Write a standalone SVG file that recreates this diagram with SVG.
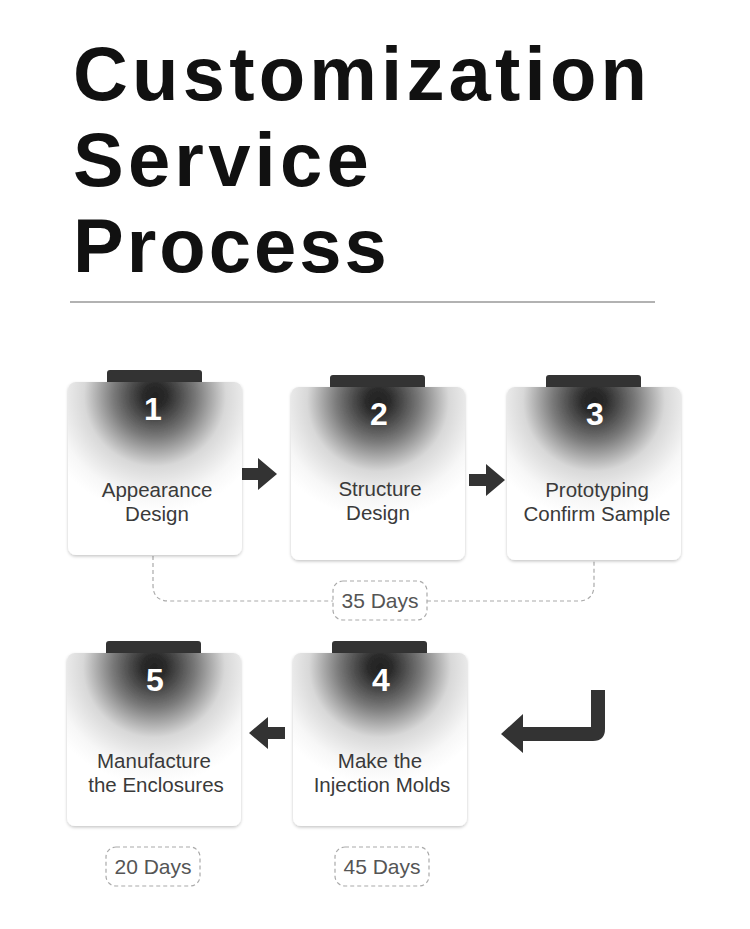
<svg xmlns="http://www.w3.org/2000/svg" width="750" height="929" viewBox="0 0 750 929">
<style>
.title{font-family:"Liberation Sans",Arial,sans-serif;font-weight:bold;font-size:76px;letter-spacing:4.2px;fill:#111}
.num{font-family:"Liberation Sans",Arial,sans-serif;font-weight:bold;font-size:32px;fill:#fff;text-anchor:middle}
.lbl{font-family:"Liberation Sans",Arial,sans-serif;font-size:20.5px;fill:#3a3a3a;text-anchor:middle}
.days{font-family:"Liberation Sans",Arial,sans-serif;font-size:21px;fill:#555;text-anchor:middle}
.tab{fill:#333}
.card{fill:url(#rg);filter:url(#sh)}
.dash{fill:none;stroke:#aaa;stroke-width:1.2;stroke-dasharray:4 3}
.arrow{fill:#333}
</style>
<defs>
<radialGradient id="rg" cx="0.5" cy="0.08" r="0.68" fx="0.5" fy="0.08">
<stop offset="0" stop-color="#222"/>
<stop offset="0.1" stop-color="#2a2a2a"/>
<stop offset="0.35" stop-color="#7a7a7a"/>
<stop offset="0.6" stop-color="#d8d8d8"/>
<stop offset="0.85" stop-color="#f7f7f7"/>
<stop offset="1" stop-color="#fff"/>
</radialGradient>
<filter id="sh" x="-10%" y="-10%" width="120%" height="125%">
<feDropShadow dx="0" dy="1.5" stdDeviation="1.8" flood-color="#000" flood-opacity="0.22"/>
</filter>
</defs>
<rect width="750" height="929" fill="#fff"/>
<g id="title">
<text class="title" x="73" y="100">Customization</text>
<text class="title" x="73" y="186">Service</text>
<text class="title" x="73" y="272" style="letter-spacing:3px">Process</text>
<line x1="70" y1="302" x2="655" y2="302" stroke="#999" stroke-width="1.5"/>
</g>
<g id="connectors">
<path class="arrow" d="M242 468 H258 V458 L277 474 L258 490 V480 H242 Z"/>
<path class="arrow" d="M469 474 H486 V464 L505 480 L486 496 V486 H469 Z"/>
<path class="arrow" d="M285 727 H268 V717 L249 733 L268 749 V739 H285 Z"/>
<path class="arrow" d="M591 690 H605 V729 Q605 741 593 741 H523 V753 L501 734 L523 714 V727 H591 Z"/>
<path class="dash" d="M153 556 V585 Q153 601 169 601 H333"/>
<path class="dash" d="M427 601 H578 Q594 601 594 585 V561"/>
</g>
<g id="node1">
<rect class="tab" x="107" y="370" width="95" height="16" rx="3"/>
<rect class="card" x="68" y="382" width="174" height="173" rx="8"/>
<text class="num" x="153" y="420">1</text>
<text class="lbl" x="157" y="497">Appearance</text>
<text class="lbl" x="157" y="521">Design</text>
</g>
<g id="node2">
<rect class="tab" x="330" y="375" width="95" height="16" rx="3"/>
<rect class="card" x="291" y="387" width="174" height="173" rx="8"/>
<text class="num" x="379" y="425">2</text>
<text class="lbl" x="380" y="496">Structure</text>
<text class="lbl" x="378" y="520">Design</text>
</g>
<g id="node3">
<rect class="tab" x="546" y="375" width="95" height="16" rx="3"/>
<rect class="card" x="507" y="387" width="174" height="173" rx="8"/>
<text class="num" x="595" y="425">3</text>
<text class="lbl" x="597" y="497">Prototyping</text>
<text class="lbl" x="597" y="521">Confirm Sample</text>
</g>
<g id="node4">
<rect class="tab" x="332" y="641" width="95" height="16" rx="3"/>
<rect class="card" x="293" y="653" width="174" height="173" rx="8"/>
<text class="num" x="381" y="691">4</text>
<text class="lbl" x="380" y="768">Make the</text>
<text class="lbl" x="382" y="792">Injection Molds</text>
</g>
<g id="node5">
<rect class="tab" x="106" y="641" width="95" height="16" rx="3"/>
<rect class="card" x="67" y="653" width="174" height="173" rx="8"/>
<text class="num" x="155" y="691">5</text>
<text class="lbl" x="154" y="768">Manufacture</text>
<text class="lbl" x="156" y="792">the Enclosures</text>
</g>
<g id="days35">
<rect class="dash" x="333" y="581" width="94" height="39" rx="10"/>
<text class="days" x="380" y="608">35 Days</text>
</g>
<g id="days20">
<rect class="dash" x="106" y="847" width="94" height="39" rx="10"/>
<text class="days" x="153" y="874">20 Days</text>
</g>
<g id="days45">
<rect class="dash" x="335" y="847" width="94" height="39" rx="10"/>
<text class="days" x="382" y="874">45 Days</text>
</g>
</svg>
